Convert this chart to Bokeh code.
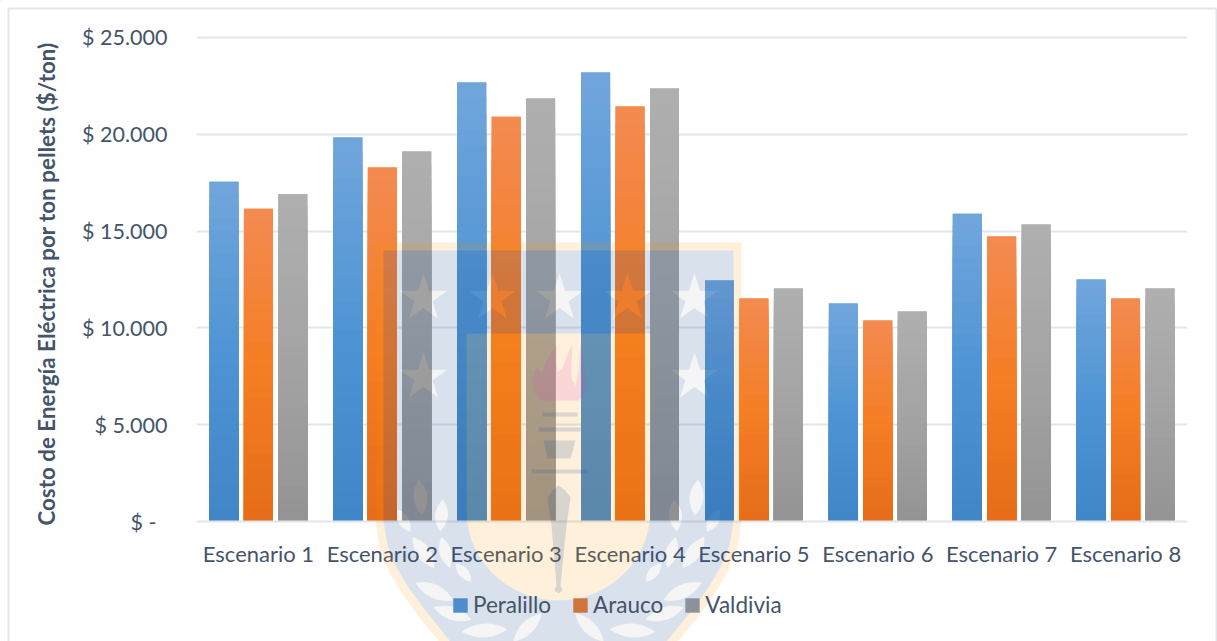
import numpy as np
from bokeh.embed import file_html
from bokeh.models import (ColumnDataSource, FactorRange, FixedTicker, Legend, LegendItem, Range1d)
from bokeh.plotting import figure
from bokeh.resources import INLINE
from bokeh.transform import dodge

escenarios = ["Escenario 1", "Escenario 2", "Escenario 3", "Escenario 4",
              "Escenario 5", "Escenario 6", "Escenario 7", "Escenario 8"]
peralillo = [17550, 19830, 22670, 23190, 12450, 11260, 15900, 12500]
arauco = [16150, 18280, 20900, 21430, 11520, 10380, 14720, 11520]
valdivia = [16900, 19110, 21850, 22360, 12030, 10850, 15340, 12030]
y_ticks = [0, 5000, 10000, 15000, 20000, 25000]
y_labels = ["$ -\u00a0\u00a0", "$ 5.000", "$ 10.000", "$ 15.000", "$ 20.000", "$ 25.000"]

TEXT = "#44546A"
GRID = "#E2E6EC"
FONT = "Lato"
BLUE_TINT = "#1F4E8C"
CREAM_TINT = "#FA9600"

p = figure(width=1217, height=641, output_backend="svg", toolbar_location=None,
           x_range=FactorRange(factors=escenarios, range_padding=0),
           y_range=Range1d(0, 25103),
           min_border_left=196, min_border_right=30, min_border_top=35, min_border_bottom=120)
p.outline_line_color = None
p.background_fill_color = "white"
p.xgrid.grid_line_color = None
p.ygrid.grid_line_color = GRID
p.ygrid.grid_line_width = 2

p.yaxis.ticker = FixedTicker(ticks=y_ticks)
p.yaxis.major_label_overrides = dict(zip(y_ticks, y_labels))
p.yaxis.axis_label = "Costo de Energía Eléctrica por ton pellets ($/ton)\u00a0\u00a0"
p.yaxis.axis_label_text_font = FONT
p.yaxis.axis_label_text_font_style = "bold"
p.yaxis.axis_label_text_font_size = "22.4px"
p.yaxis.axis_label_text_color = TEXT
p.yaxis.axis_label_standoff = 19
p.yaxis.axis_line_color = None
p.yaxis.major_label_standoff = 23
for axis in (p.xaxis[0], p.yaxis[0]):
    axis.major_tick_line_color = None
    axis.minor_tick_line_color = None
    axis.major_label_text_font = FONT
    axis.major_label_text_color = TEXT
p.yaxis.major_label_text_font_size = "21.5px"
p.xaxis.major_label_text_font_size = "22px"
p.xaxis.axis_line_color = GRID
p.xaxis.axis_line_width = 2
p.xaxis.major_label_standoff = 12

# Each bar is a solid base plus nested darker bars that give it a vertical gradient.
series = [
    ("Peralillo", peralillo, -0.278, ["#70A5DC", "#4E94D4", "#4085C6"], "#4F8CCB"),
    ("Arauco", arauco, 0.0, ["#F38A50", "#F57D23", "#E66C19"], "#CF743C"),
    ("Valdivia", valdivia, 0.278, ["#AFAFAF", "#A3A3A3", "#939393"], "#8C929B"),
]


def hex_rgb(h):
    return np.array([int(h[i:i + 2], 16) for i in (1, 3, 5)], dtype=float)


def shade(stops, t):
    rgb = [np.interp(t, [0, 0.5, 1], [hex_rgb(s)[k] for s in stops]) for k in range(3)]
    return "#%02X%02X%02X" % tuple(int(round(c)) for c in rgb)


BAR_W = 0.234
for name, vals, off, stops, _ in series:
    src = ColumnDataSource(dict(cat=escenarios, val=vals))
    p.vbar(x=dodge("cat", off, range=p.x_range), top="val", width=BAR_W, source=src,
           fill_color=stops[1], line_color=None)
    cats, tops, cols = [], [], []
    for t in np.linspace(0, 1, 28, endpoint=False):
        for c, v in zip(escenarios, vals):
            cats.append(c)
            tops.append(v * (1 - t))
            cols.append(shade(stops, t))
    grad = ColumnDataSource(dict(cat=cats, top=tops, col=cols))
    p.vbar(x=dodge("cat", off, range=p.x_range), top="top", width=BAR_W, source=grad,
           fill_color="col", line_color=None)

# Transparent sheet over the whole page: it carries the crest, the legend and the
# outer frame, in page pixels with y growing downward.
sheet = figure(width=1217, height=641, output_backend="svg", toolbar_location=None,
               x_range=Range1d(0, 1217), y_range=Range1d(641, 0),
               x_axis_location=None, y_axis_location=None,
               min_border=0, margin=(-641, 0, 0, 0))
sheet.grid.visible = False
sheet.outline_line_color = None
sheet.background_fill_alpha = 0
sheet.border_fill_alpha = 0


def star(cx, cy, r=25):
    a = -np.pi / 2 + np.arange(10) * np.pi / 5
    rad = np.where(np.arange(10) % 2 == 0, r, r * 0.38)
    return np.c_[cx + rad * np.cos(a), cy + rad * np.sin(a)]


def leaf(cx, cy, length, width, angle):
    t = np.linspace(0, 2 * np.pi, 20, endpoint=False)
    u = 0.5 * length * np.cos(t)
    v = 0.5 * width * np.sin(t) * np.abs(np.sin(t))
    a = np.radians(angle)
    return np.c_[cx + u * np.cos(a) - v * np.sin(a), cy + u * np.sin(a) + v * np.cos(a)]


def mirrored(pts, axis=558):
    return [(2 * axis - x, y) for x, y in pts[::-1]]


def shape(rings, color, alpha):
    """First ring is the outline, the others are cut out of it."""
    xs = [[float(v[0]) for v in r] for r in rings]
    ys = [[float(v[1]) for v in r] for r in rings]
    sheet.multi_polygons(xs=[[xs]], ys=[[ys]], fill_color=color, fill_alpha=alpha, line_color=None)


shield_side = [(383, 250), (383, 521), (387, 545), (395, 565), (408, 587), (425, 610),
               (445, 635), (470, 665), (558, 720)]
shield = shield_side + mirrored(shield_side)[1:]
outer_side = [(375, 242), (375, 521), (379, 548), (388, 570), (401, 592), (418, 616),
              (439, 641), (465, 672), (558, 730)]
outer = outer_side + mirrored(outer_side)[1:]

tt = np.linspace(0, np.pi, 30)
panel = [(466, 333), (650, 333)] + list(zip(558 + 92 * np.cos(tt), 510 + 90 * np.sin(tt)))

stars = [star(x, 298) for x in (423, 492, 559, 627, 694)] + [star(423, 377), star(694, 377)]
leaf_specs = [(420, 497, 36, 14, 85), (441, 515, 32, 13, 95), (403, 520, 26, 11, 60),
              (445, 552, 32, 12, 75), (423, 552, 38, 14, 55), (463, 572, 24, 10, 50),
              (434, 591, 42, 14, 25), (452, 613, 40, 13, 18), (484, 630, 46, 14, -3),
              (527, 627, 40, 13, -45)]
leaves = []
for cx, cy, ln, wd, ang in leaf_specs:
    leaves.append(leaf(cx, cy, ln, wd, ang))
    leaves.append(leaf(2 * 558 - cx, cy, ln, wd, 180 - ang))

flame = [(540, 400), (534, 392), (532, 380), (535, 368), (537, 366), (541, 374), (545, 362),
         (552, 350), (556, 345), (556, 360), (557, 372), (562, 368), (568, 352), (572, 343),
         (571, 360), (571, 378), (575, 385), (578, 372), (580, 343), (584, 365), (585, 385),
         (583, 395), (578, 400)]
handle = [(552, 490), (558, 485), (565, 490), (570, 497), (566, 525), (560, 585), (562, 590),
          (558, 593), (554, 590), (556, 585), (551, 525), (547, 497)]

shape([outer, shield], CREAM_TINT, 0.14)
shape([panel], CREAM_TINT, 0.14)
shape([shield, panel] + stars + leaves, BLUE_TINT, 0.17)
for cutout in stars + leaves:
    shape([cutout], "#6E6E6E", 0.07)
shape([flame], "#EB3CBE", 0.14)
for piece in ([(542, 412), (577, 412), (577, 416), (542, 416)],
              [(538, 427), (580, 427), (580, 431), (538, 431)],
              [(543, 440), (575, 440), (570, 458), (547, 458)],
              [(531, 469), (587, 469), (587, 473), (531, 473)],
              handle):
    shape([piece], BLUE_TINT, 0.17)

# Chart frame: the bottom edge lies past the visible page.
sheet.line(x=[8, 8, 1216], y=[720, 8, 8], line_color=GRID, line_width=2)
sheet.line(x=[1216, 1216], y=[8, 720], line_color=GRID, line_width=2)

# Legend keys take their fill from glyphs parked off the page.
items = []
for name, _, _, _, key in series:
    r = sheet.vbar(x=[-50], top=[-50], bottom=[-60], width=1, fill_color=key, line_color=None)
    items.append(LegendItem(label=name, renderers=[r]))
legend = Legend(items=items, orientation="horizontal", location=(451, 23),
                background_fill_alpha=0, border_line_color=None, margin=0, padding=0,
                spacing=20, glyph_width=18, glyph_height=18, label_standoff=4,
                label_text_font=FONT, label_text_font_size="22.5px", label_text_color=TEXT)
sheet.add_layout(legend, "center")

open("out.html", "w").write(file_html([p, sheet], INLINE))
